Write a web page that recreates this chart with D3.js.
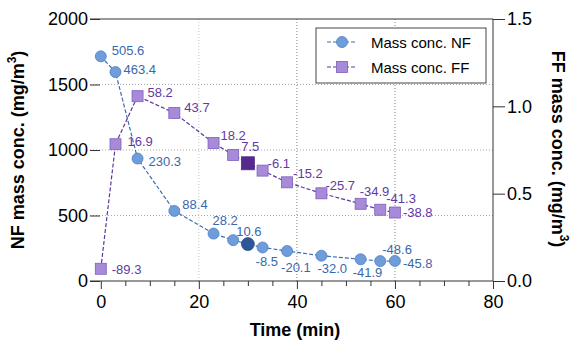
<!DOCTYPE html>
<html><head><meta charset="utf-8">
<script src="https://cdn.jsdelivr.net/npm/d3@7"></script>
<style>body{margin:0;background:#fff}svg{display:block;font-family:"Liberation Sans",Arial,sans-serif}</style>
</head><body><svg id="c" width="573" height="350"></svg>
<script>
const time = [0, 3, 7.5, 15, 23, 27, 30, 33, 38, 45, 53, 57, 60];
const nfValues = [1715, 1595, 935, 535, 362, 312, 282, 256, 229, 193, 166, 152, 153];
const ffValues = [0.07, 0.783, 1.058, 0.962, 0.79, 0.722, 0.674, 0.632, 0.565, 0.502, 0.442, 0.408, 0.392];
const nfLabels = ["505.6","463.4","230.3","88.4","28.2","10.6","","-8.5","-20.1","-32.0","-41.9","-48.6","-45.8"];
const ffLabels = ["-89.3","16.9","58.2","43.7","18.2","7.5","","-6.1","-15.2","-25.7","-34.9","-41.3","-38.8"];
const refIndex = 6;
const xTicks = [0, 20, 40, 60, 80];
const yLeftTicks = [0, 500, 1000, 1500, 2000];
const yRightTicks = [0, 0.5, 1.0, 1.5];
const seriesNames = ["Mass conc. NF", "Mass conc. FF"];

// label offsets (layout)
const nfOff = [[11,-6],[8,-3],[11,3],[8,-6],[-1,-13],[3,-9],null,[-7,14],[-6,16],[-4,13],[-8,13],[2,-12],[8,3]];
const ffOff = [[11,1],[12,-3],[10,-4],[10,-5],[7,-8],[8,-8],null,[5,-7],[6,-9],[4,-8],[-1,-12],[6,-11],[8,0]];

const svg = d3.select("#c");
const L = 90, R = 493, T = 19, B = 281;
const x = d3.scaleLinear().domain([-2.2, 80]).range([L, R]);
const yL = d3.scaleLinear().domain([0, 2000]).range([B, T]);
const yR = d3.scaleLinear().domain([0, 1.5]).range([B, T]);

const C = {nfFill:"#6f9dd9", nfStroke:"#4c7ec6", nfLine:"#3d6cb3", nfText:"#3a67ad", nfDark:"#2d5696",
           ffFill:"#a88bd8", ffStroke:"#7c5ebf", ffLine:"#5e379f", ffText:"#6537a6", ffDark:"#552a8c"};

// gridlines
const g = svg.append("g");
g.selectAll("line.h").data(yLeftTicks.filter(d => d > 0 && d < 2000)).join("line")
  .attr("x1", L).attr("x2", R).attr("y1", d => yL(d)).attr("y2", d => yL(d))
  .attr("stroke", "#aaa").attr("stroke-width", 1).attr("stroke-dasharray", "1,2");
g.selectAll("line.v").data(xTicks.filter(d => d > 0 && d < 80)).join("line")
  .attr("x1", d => x(d)).attr("x2", d => x(d)).attr("y1", T).attr("y2", B)
  .attr("stroke", (d) => d === 20 ? "#c8c8c8" : "#888").attr("stroke-width", 1).attr("stroke-dasharray", "1,2");

// frame
svg.append("line").attr("x1", L).attr("x2", R).attr("y1", T).attr("y2", T).attr("stroke", "#333");
svg.append("line").attr("x1", L).attr("x2", R).attr("y1", B).attr("y2", B).attr("stroke", "#333");
svg.append("line").attr("x1", R).attr("x2", R).attr("y1", T).attr("y2", B).attr("stroke", "#333");

// left axis
const la = svg.append("g").attr("transform", `translate(${L+10},0)`)
  .call(d3.axisLeft(yL).tickValues(yLeftTicks).tickSize(10).tickPadding(2).tickFormat(d3.format("d")));
la.select(".domain").remove();
la.selectAll("line").attr("stroke", "#333");
la.selectAll("text").attr("font-size", 18).attr("fill", "#000").attr("font-family", "Liberation Sans, Arial");

// right axis
const ra = svg.append("g").attr("transform", `translate(${R},0)`)
  .call(d3.axisRight(yR).tickValues(yRightTicks).tickSize(12).tickPadding(2).tickFormat(d3.format(".1f")));
ra.select(".domain").remove();
ra.selectAll("line").attr("stroke", "#333");
ra.selectAll("text").attr("font-size", 18).attr("fill", "#000").attr("font-family", "Liberation Sans, Arial");

// bottom axis
const minor = d3.range(0, 81, 5).filter(d => !xTicks.includes(d));
const bm = svg.append("g").attr("transform", `translate(0,${B})`)
  .call(d3.axisBottom(x).tickValues(minor).tickSize(5).tickFormat(""));
bm.select(".domain").remove(); bm.selectAll("line").attr("stroke", "#333");
const ba = svg.append("g").attr("transform", `translate(0,${B})`)
  .call(d3.axisBottom(x).tickValues(xTicks).tickSize(8).tickPadding(6));
ba.select(".domain").remove(); ba.selectAll("line").attr("stroke", "#333");
ba.selectAll("text").attr("font-size", 18).attr("fill", "#000").attr("font-family", "Liberation Sans, Arial");

// titles
svg.append("text").attr("x", 295).attr("y", 336).attr("text-anchor", "middle")
  .attr("font-size", 18).attr("font-weight", "bold").text("Time (min)");
function vTitle(cx, cy, rot, label) {
  const t = svg.append("text").attr("transform", `translate(${cx},${cy}) rotate(${rot})`)
    .attr("text-anchor", "middle").attr("dominant-baseline", "central")
    .attr("font-size", 18).attr("font-weight", "bold");
  t.append("tspan").text(label + " (mg/m");
  t.append("tspan").attr("font-size", 12).attr("dy", -6).text("3");
  t.append("tspan").attr("dy", 6).text(")");
}
vTitle(18, 150, -90, "NF mass conc.");
vTitle(558, 149, 90, "FF mass conc.");

// lines
const pts = time.map((t, i) => ({t, nf: nfValues[i], ff: ffValues[i], i}));
svg.append("path").datum(pts)
  .attr("d", d3.line().x(d => x(d.t)).y(d => yL(d.nf)))
  .attr("fill", "none").attr("stroke", C.nfLine).attr("stroke-width", 1.2).attr("stroke-dasharray", "4,2");
svg.append("path").datum(pts)
  .attr("d", d3.line().x(d => x(d.t)).y(d => yR(d.ff)))
  .attr("fill", "none").attr("stroke", C.ffLine).attr("stroke-width", 1.2).attr("stroke-dasharray", "4,2");

// markers
svg.append("g").selectAll("circle").data(pts).join("circle")
  .attr("cx", d => x(d.t)).attr("cy", d => yL(d.nf))
  .attr("r", d => d.i === refIndex ? 6.5 : 5.5)
  .attr("fill", d => d.i === refIndex ? C.nfDark : C.nfFill)
  .attr("stroke", d => d.i === refIndex ? C.nfDark : C.nfStroke).attr("stroke-width", 0.8);
svg.append("g").selectAll("rect").data(pts).join("rect")
  .each(function(d) {
    const s = d.i === refIndex ? 13 : 11;
    d3.select(this).attr("x", x(d.t) - s/2).attr("y", yR(d.ff) - s/2).attr("width", s).attr("height", s);
  })
  .attr("fill", d => d.i === refIndex ? C.ffDark : C.ffFill)
  .attr("stroke", d => d.i === refIndex ? C.ffDark : C.ffStroke).attr("stroke-width", 0.8);

// labels
svg.append("g").selectAll("text").data(pts.filter(d => nfLabels[d.i])).join("text")
  .attr("x", d => x(d.t) + nfOff[d.i][0]).attr("y", d => yL(d.nf) + nfOff[d.i][1])
  .attr("dominant-baseline", "central").attr("font-size", 13).attr("fill", C.nfText)
  .text(d => nfLabels[d.i]);
svg.append("g").selectAll("text").data(pts.filter(d => ffLabels[d.i])).join("text")
  .attr("x", d => x(d.t) + ffOff[d.i][0]).attr("y", d => yR(d.ff) + ffOff[d.i][1])
  .attr("dominant-baseline", "central").attr("font-size", 13).attr("fill", C.ffText)
  .text(d => ffLabels[d.i]);

// legend
const lg = svg.append("g");
lg.append("rect").attr("x", 316).attr("y", 28).attr("width", 170).attr("height", 55)
  .attr("fill", "#fff").attr("stroke", "#444").attr("stroke-width", 1);
const rows = [{y: 42, line: C.nfLine, fill: C.nfFill, stroke: C.nfStroke, shape: "c"},
              {y: 67, line: C.ffLine, fill: C.ffFill, stroke: C.ffStroke, shape: "s"}];
rows.forEach((r, k) => {
  lg.append("line").attr("x1", 327).attr("x2", 357).attr("y1", r.y).attr("y2", r.y)
    .attr("stroke", r.line).attr("stroke-width", 1.2).attr("stroke-dasharray", "4,2");
  if (r.shape === "c") lg.append("circle").attr("cx", 342).attr("cy", r.y).attr("r", 5.5)
    .attr("fill", r.fill).attr("stroke", r.stroke).attr("stroke-width", 0.8);
  else lg.append("rect").attr("x", 336.5).attr("y", r.y - 5.5).attr("width", 11).attr("height", 11)
    .attr("fill", r.fill).attr("stroke", r.stroke).attr("stroke-width", 0.8);
  lg.append("text").attr("x", 371).attr("y", r.y).attr("dominant-baseline", "central")
    .attr("font-size", 15).attr("fill", "#000").text(seriesNames[k]);
});
</script></body></html>
